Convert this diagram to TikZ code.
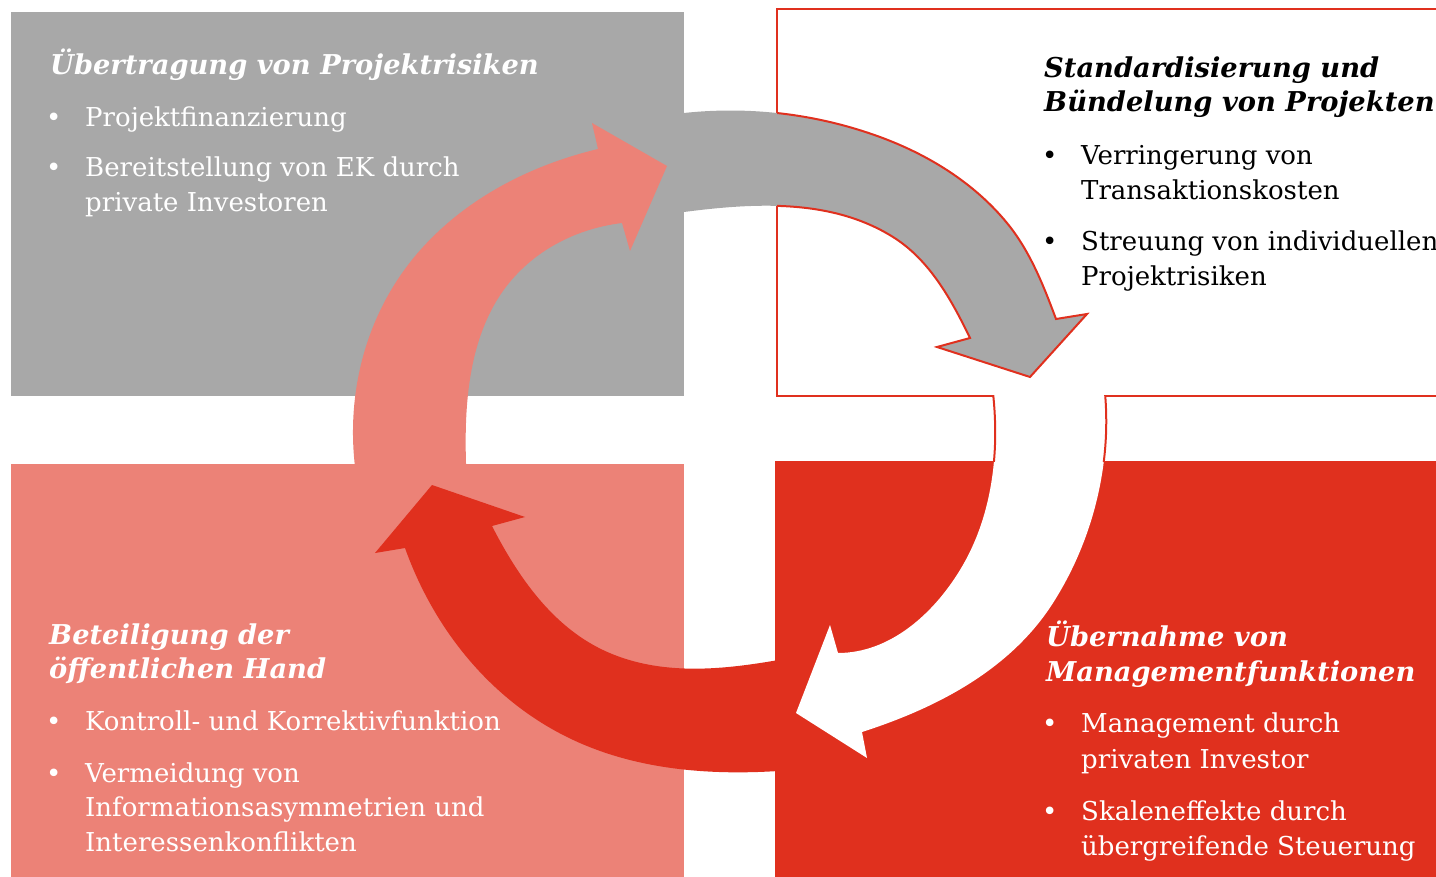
\documentclass[tikz,border=0pt]{standalone}
\usepackage{fontspec}
\setmainfont{DejaVu Serif}
\definecolor{pgrey}{HTML}{A8A8A8}
\definecolor{psalmon}{HTML}{EC8277}
\definecolor{pred}{HTML}{E0301E}
\tikzset{
  hd/.style={anchor=base west, inner sep=0pt, font=\fontsize{27.3}{30}\selectfont\bfseries\itshape},
  tx/.style={anchor=base west, inner sep=0pt, font=\fontsize{26}{30}\selectfont},
  bul/.style={anchor=base west, inner sep=0pt, font=\fontsize{26}{30}\selectfont},
  rim/.style={draw=pred, line width=2pt, line join=miter},
}
\begin{document}
\begin{tikzpicture}[x=1pt,y=-1pt]
\useasboundingbox (0,0) rectangle (1436,877);
% boxes
\fill[pgrey] (11,12) rectangle (684,396);
\fill[psalmon] (11,464) rectangle (684,880);
\fill[pred] (775,461) rectangle (1440,880);
\draw[rim] (1440,9) -- (777,9) -- (777,396) -- (1440,396);
% grey arrow
\fill[pgrey] (630,119) -- (684,113) .. controls (750.2,105.9) and (817.5,114.1) .. (880,137) .. controls (928.5,154.8) and (974.2,183.0) .. (1007,223) .. controls (1029.9,250.9) and (1043.4,285.2) .. (1056,319) -- (1087,314) -- (1030,377) -- (937,347) -- (970,338) .. controls (951.3,299.4) and (929.4,259.7) .. (893,237) .. controls (831.8,198.7) and (755.6,202.7) .. (684,212) -- (630,222) -- cycle;
\begin{scope}
\clip (777,0) rectangle (1445,396);
\draw[rim] (630,119) -- (684,113) .. controls (750.2,105.9) and (817.5,114.1) .. (880,137) .. controls (928.5,154.8) and (974.2,183.0) .. (1007,223) .. controls (1029.9,250.9) and (1043.4,285.2) .. (1056,319) -- (1087,314) -- (1030,377) -- (937,347) -- (970,338) .. controls (951.3,299.4) and (929.4,259.7) .. (893,237) .. controls (831.8,198.7) and (755.6,202.7) .. (684,212) -- (630,222) -- cycle;
\end{scope}
% salmon arrow
\fill[psalmon] (362,505) .. controls (339,413) and (360.2,315.6) .. (423,247) .. controls (468.9,196.8) and (531.9,164.8) .. (598,149) -- (592,123) -- (667,166) -- (630,251) -- (622,223) .. controls (567.8,229.6) and (519.0,258.9) .. (493,307) .. controls (467.8,353.6) and (464.4,410) .. (466,463) -- (468,505) -- cycle;
% red arrow
\fill[pred] (830,766) .. controls (741.3,777.3) and (647.1,776.7) .. (567,737) .. controls (490,698.9) and (433.9,628.9) .. (405,548) -- (375,553) -- (432,485) -- (525,517) -- (492,526) .. controls (517.8,576.4) and (551.9,625.7) .. (603,650) .. controls (672.7,683.1) and (754.3,665.1) .. (830,650) -- cycle;
% white arrow
\fill[white] (1105,393) .. controls (1111.5,466.2) and (1092.5,541) .. (1053,603) .. controls (1010.5,669.6) and (937.2,707.8) .. (862,732) -- (867,758) -- (796,713) -- (830,625) -- (838,653) .. controls (889.7,653) and (933.1,614.2) .. (960,570) .. controls (991.9,517.7) and (999.7,453.8) .. (993,393) -- cycle;
\begin{scope}
\clip (900,396) rectangle (1200,461);
\draw[rim] (1105,393) .. controls (1111.5,466.2) and (1092.5,541) .. (1053,603);
\draw[rim] (960,570) .. controls (991.9,517.7) and (999.7,453.8) .. (993,393);
\end{scope}
% texts top left
\node[hd, white] (tlh) at (50,75) {Übertragung von Projektrisiken};
\node[bul, white] (tlb1) at (46,127) {•};
\node[tx, white] (tl1) at (85,127) {Projektfinanzierung};
\node[bul, white] (tlb2) at (46,177) {•};
\node[tx, white] (tl2a) at (85,177) {Bereitstellung von EK durch};
\node[tx, white] (tl2b) at (85,212) {private Investoren};
% top right
\node[hd] (trh1) at (1044,78) {Standardisierung und};
\node[hd] (trh2) at (1044,112) {Bündelung von Projekten};
\node[bul] (trb1) at (1042,165) {•};
\node[tx] (tr1a) at (1081,165) {Verringerung von};
\node[tx] (tr1b) at (1081,200) {Transaktionskosten};
\node[bul] (trb2) at (1042,251) {•};
\node[tx] (tr2a) at (1081,251) {Streuung von individuellen};
\node[tx] (tr2b) at (1081,286) {Projektrisiken};
% bottom left
\node[hd, white] (blh1) at (49,644) {Beteiligung der};
\node[hd, white] (blh2) at (49,678) {öffentlichen Hand};
\node[bul, white] (blb1) at (46,730) {•};
\node[tx, white] (bl1) at (85,730) {Kontroll- und Korrektivfunktion};
\node[bul, white] (blb2) at (46,782) {•};
\node[tx, white] (bl2a) at (85,782) {Vermeidung von};
\node[tx, white] (bl2b) at (85,816) {Informationsasymmetrien und};
\node[tx, white] (bl2c) at (85,851) {Interessenkonflikten};
% bottom right
\node[hd, white] (brh1) at (1046,646) {Übernahme von};
\node[hd, white] (brh2) at (1046,681) {Managementfunktionen};
\node[bul, white] (brb1) at (1042,732) {•};
\node[tx, white] (br1a) at (1081,732) {Management durch};
\node[tx, white] (br1b) at (1081,768) {privaten Investor};
\node[bul, white] (brb2) at (1042,820) {•};
\node[tx, white] (br2a) at (1081,820) {Skaleneffekte durch};
\node[tx, white] (br2b) at (1081,855) {übergreifende Steuerung};
\end{tikzpicture}
\end{document}
